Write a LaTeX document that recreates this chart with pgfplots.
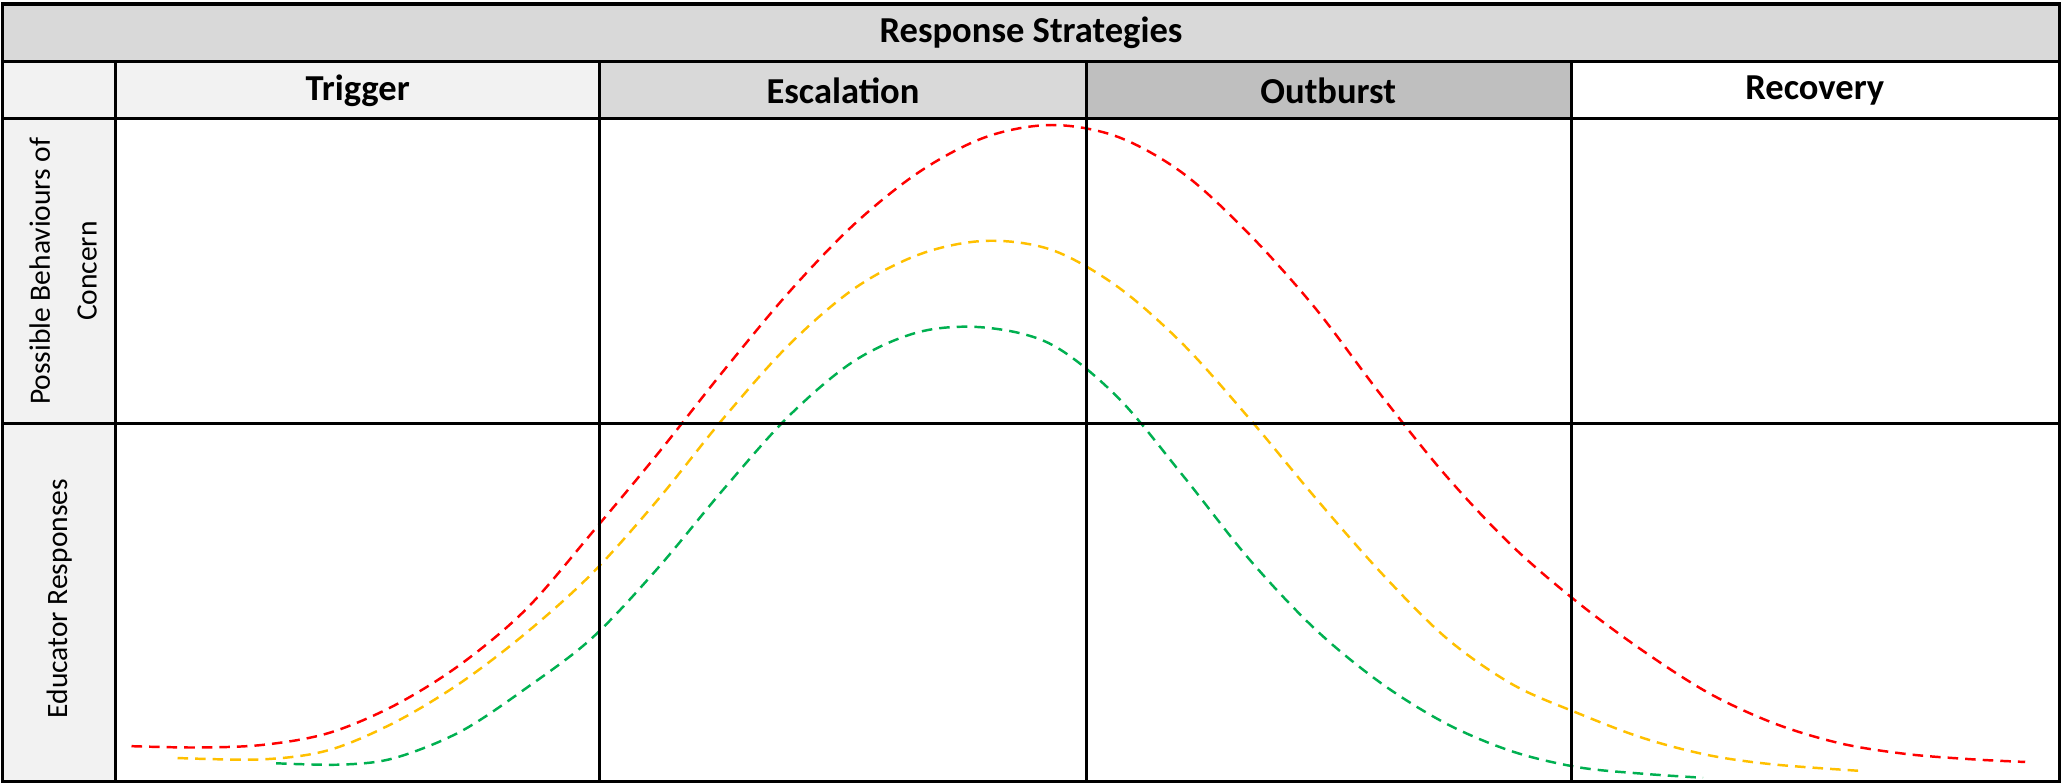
\documentclass[border=0pt]{standalone}
\usepackage{fontspec}
\setmainfont{Carlito}
\usepackage{pgfplots}
\pgfplotsset{compat=1.18}
\definecolor{lg}{HTML}{F2F2F2}
\definecolor{mg}{HTML}{D9D9D9}
\definecolor{dg}{HTML}{BFBFBF}
\definecolor{cred}{HTML}{FF0000}
\definecolor{corange}{HTML}{FFC000}
\definecolor{cgreen}{HTML}{00B050}
\begin{document}
\begin{tikzpicture}
\begin{axis}[scale only axis, width=20.62cm, height=7.83cm,
  xmin=0, xmax=1568, ymin=0, ymax=595, y dir=reverse,
  hide axis, clip=false]
\path (0,0) rectangle (1568,595);
% fills
\fill[mg] (2,3) rectangle (1566,47);
\fill[lg] (2,47) rectangle (456,90);
\fill[mg] (456,47) rectangle (826,90);
\fill[dg] (826,47) rectangle (1195,90);
\fill[lg] (2,90) rectangle (88,594);
% curves
\addplot[cred, line width=0.7pt, dash pattern=on 3pt off 2pt, smooth, tension=0.55] coordinates {
(100,567) (150,568) (200,566) (250,557) (300,536) (350,505) (400,463) (450,405) (500,345) (550,282) (600,222) (650,170) (700,130) (750,104) (800,95) (850,104) (900,132) (950,178) (1000,234) (1050,300) (1100,362) (1150,415) (1200,458) (1250,495) (1300,527) (1350,550) (1400,565) (1450,573) (1500,577) (1540,579)};
\addplot[corange, line width=0.7pt, dash pattern=on 3pt off 2pt, smooth, tension=0.55] coordinates {
(135,576) (200,577) (250,570) (300,549) (350,519) (400,481) (450,436) (500,380) (550,318) (600,262) (650,219) (700,193) (750,183) (800,190) (850,218) (900,262) (950,318) (1000,378) (1050,435) (1100,485) (1150,520) (1200,542) (1250,561) (1300,574) (1350,581) (1418,586)};
\addplot[cgreen, line width=0.7pt, dash pattern=on 3pt off 2pt, smooth, tension=0.55] coordinates {
(210,580) (260,581) (300,576) (350,556) (400,523) (450,485) (500,432) (550,372) (600,316) (650,274) (700,252) (750,249) (800,262) (850,302) (900,362) (950,425) (1000,478) (1050,519) (1100,550) (1150,571) (1200,583) (1250,588) (1295,591)};
% lines
\draw[line width=0.9pt] (2,3) rectangle (1566,594);
\draw[line width=0.9pt] (2,47) -- (1566,47);
\draw[line width=0.9pt] (2,90) -- (1566,90);
\draw[line width=0.9pt] (2,322) -- (1566,322);
\draw[line width=0.9pt] (88,47) -- (88,594);
\draw[line width=0.9pt] (456,47) -- (456,594);
\draw[line width=0.9pt] (826,47) -- (826,594);
\draw[line width=0.9pt] (1195,47) -- (1195,594);
% text
\node[font=\bfseries\fontsize{10.4}{12}\selectfont] at (784,25) {Response Strategies};
\node[font=\bfseries\fontsize{10.4}{12}\selectfont] at (272,69) {Trigger};
\node[font=\bfseries\fontsize{10.4}{12}\selectfont] at (641,69) {Escalation};
\node[font=\bfseries\fontsize{10.4}{12}\selectfont] at (1010,69) {Outburst};
\node[font=\bfseries\fontsize{10.4}{12}\selectfont] at (1380,69) {Recovery};
\node[rotate=90, align=center, font=\fontsize{8.4}{10}\selectfont] at (48,206) {Possible Behaviours of\\[3.3pt]Concern};
\node[rotate=90, font=\fontsize{8.4}{10}\selectfont] at (45,455) {Educator Responses};
\end{axis}
\end{tikzpicture}
\end{document}
